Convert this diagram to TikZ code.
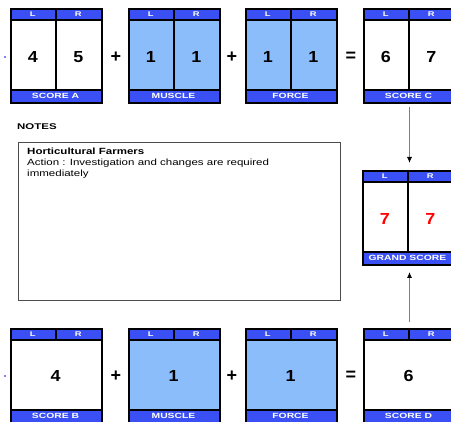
\documentclass[tikz,border=0pt]{standalone}
\usepackage{fontspec}
\setmainfont{Liberation Sans}
\newfontfamily\widefont[FakeStretch=1.38]{Liberation Sans}
\newfontfamily\numfont[FakeStretch=1.12]{Liberation Sans}
\newfontfamily\notefont[FakeStretch=1.28]{Liberation Sans}
\usetikzlibrary{arrows.meta}
\definecolor{hdr}{HTML}{3A50F5}
\definecolor{lblue}{HTML}{8CBDFB}
\tikzset{
  frame/.style={draw=black, line width=2pt, minimum width=91pt, minimum height=94pt, inner sep=0pt, anchor=north west},
  hdrtxt/.style={text=white, font=\widefont\bfseries\fontsize{6.8}{7}\selectfont, inner sep=0pt},
  ftrtxt/.style={text=white, font=\widefont\bfseries\fontsize{7.5}{8}\selectfont, inner sep=0pt},
  digit/.style={font=\numfont\bfseries\fontsize{16}{17}\selectfont, inner sep=0pt, anchor=base},
  op/.style={font=\bfseries\fontsize{18}{18}\selectfont, inner sep=0pt},
  notetxt/.style={font=\notefont\fontsize{9}{10}\selectfont, inner sep=0pt, anchor=base west},
  conn/.style={draw=gray, line width=0.8pt, -{Latex[color=black,length=6pt,width=5pt]}}
}
% #1 name, #2 left, #3 top, #4 fill, #5 footer text
\newcommand\scorebx[5]{%
  \fill[#4] (#2,#3) rectangle (#2+91,#3+94);
  \fill[hdr] (#2,#3) rectangle (#2+91,#3+12);
  \fill[hdr] (#2,#3+82) rectangle (#2+91,#3+94);
  \draw[line width=1.2pt] (#2,#3+12) -- (#2+91,#3+12);
  \draw[line width=1.2pt] (#2,#3+82) -- (#2+91,#3+82);
  \node[frame] (#1) at (#2,#3) {};
  \node[hdrtxt] (#1L) at (#2+22.75,#3+6) {L};
  \node[hdrtxt] (#1R) at (#2+68.25,#3+6) {R};
  \node[ftrtxt] (#1F) at (#2+45.5,#3+88.3) {#5};
}
% full divider, two digits
\newcommand\twodig[6]{% #1 name, #2 left, #3 top, #4 left val, #5 right val, #6 colour
  \draw[line width=2pt] (#2+45.5,#3) -- (#2+45.5,#3+82);
  \node[digit,text=#6] (#1a) at (#2+22.75,#3+55) {#4};
  \node[digit,text=#6] (#1b) at (#2+68.25,#3+55) {#5};
}
% header-only divider, one digit
\newcommand\onedig[4]{% #1 name, #2 left, #3 top, #4 val
  \draw[line width=2pt] (#2+45.5,#3) -- (#2+45.5,#3+12);
  \node[digit] (#1a) at (#2+45.5,#3+54) {#4};
}
\begin{document}
\begin{tikzpicture}[x=1pt,y=-1pt]
\useasboundingbox (0,0) rectangle (451,422);
% top row
\scorebx{A}{10}{8}{white}{SCORE A}
\twodig{A}{10}{8}{4}{5}{black}
\scorebx{M1}{128}{8}{lblue}{MUSCLE}
\twodig{M1}{128}{8}{1}{1}{black}
\scorebx{F1}{245}{8}{lblue}{FORCE}
\twodig{F1}{245}{8}{1}{1}{black}
\scorebx{C}{363}{8}{white}{SCORE C}
\twodig{C}{363}{8}{6}{7}{black}
\node[op] (p1) at (116,57) {+};
\node[op] (p2) at (232,57) {+};
\node[op] (e1) at (351,57) {=};
\fill[blue] (5,57) circle (0.9pt);
% grand score
\scorebx{G}{362}{170}{white}{GRAND SCORE}
\twodig{G}{362}{170}{7}{7}{red}
% bottom row
\scorebx{B}{10}{328}{white}{SCORE B}
\onedig{B}{10}{328}{4}
\scorebx{M2}{128}{328}{lblue}{MUSCLE}
\onedig{M2}{128}{328}{1}
\scorebx{F2}{245}{328}{lblue}{FORCE}
\onedig{F2}{245}{328}{1}
\scorebx{D}{363}{328}{white}{SCORE D}
\onedig{D}{363}{328}{6}
\node[op] (p3) at (116,376) {+};
\node[op] (p4) at (232,376) {+};
\node[op] (e2) at (351,376) {=};
\fill[blue] (5,376) circle (0.9pt);
% notes
\node[font=\widefont\bfseries\fontsize{8.3}{9}\selectfont, inner sep=0pt, anchor=base west] (notes) at (17,130) {NOTES};
\node[draw=gray!60!black, line width=1.2pt, minimum width=322pt, minimum height=158pt, inner sep=0pt, anchor=north west] (nbox) at (18,142) {};
\node[notetxt, font=\notefont\bfseries\fontsize{9}{10}\selectfont] (n1) at (27,155) {Horticultural Farmers};
\node[notetxt] (n2) at (27,166) {Action : Investigation and changes are required};
\node[notetxt] (n3) at (27,177) {immediately};
% connectors
\draw[conn, shorten <=3pt, shorten >=7pt] (C.south) -- (C.south |- G.north);
\draw[conn, shorten <=6pt, shorten >=6pt] (D.north) -- (D.north |- G.south);
\end{tikzpicture}
\end{document}
